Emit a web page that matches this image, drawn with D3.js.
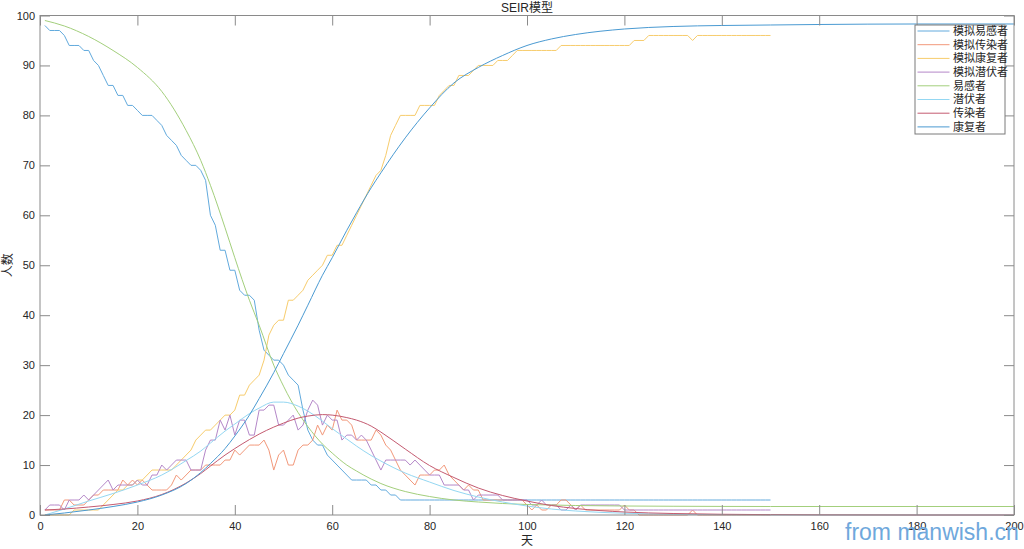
<!DOCTYPE html>
<meta charset="utf-8">
<style>
  body { margin: 0; background: #fff; }
  text { font-family: "Liberation Sans", Arial, "Noto Sans CJK SC", sans-serif; }
</style>
<body>
<script src="https://cdn.jsdelivr.net/npm/d3@7"></script>
<script>
// simulated (stochastic) run, one value per day, days 1..150
var simS = [98,97,97,97,96,94,94,94,93,93, 91,90,88,86,86,84,84,82,82,81,
            80,80,80,79,78,76,75,74,72,71, 70,70,69,67,60,58,53,53,49,49,
            45,44,44,43,37,33,32,31,31,30, 28,27,26,21,17,15,14,14,12,11,
            10,9,8,7,7,7,7,6,6,5, 5,4,4,3,3,3,3,3,3,3,
            3,3,3,3,3,3,3,3,3,3, 3,3,3,3,3,3,3,3,3,3,
            3,3,3,3,3,3,3,3,3,3, 3,3,3,3,3,3,3,3,3,3,
            3,3,3,3,3,3,3,3,3,3, 3,3,3,3,3,3,3,3,3,3,
            3,3,3,3,3,3,3,3,3,3];
var simI = [1,1,1,1,3,3,2,2,2,3, 4,4,5,5,5,5,7,6,7,6,
            7,6,5,5,5,5,6,8,7,8, 9,9,9,10,10,10,10,11,11,13,
            12,13,14,14,14,15,13,9,12,13, 10,10,13,14,14,15,18,16,18,17,
            21,19,19,18,15,15,15,15,17,16, 14,13,11,9,8,7,6,8,8,8,
            9,9,10,8,7,6,5,6,5,5, 3,3,3,3,3,3,3,3,3,2,
            1,2,1,1,2,2,3,3,2,1, 2,1,1,1,1,1,1,1,1,2,
            1,1,0,0,0,0,0,0,0,0, 0,0,0,1,0,0,0,0,0,0,
            0,0,0,0,0,0,0,0,0,0];
var simR = [0,0,0,0,0,0,1,1,1,1, 1,1,2,3,4,5,5,6,6,7,
            7,8,9,9,9,9,9,10,11,12, 13,15,16,17,17,18,19,20,20,21,
            24,24,26,27,28,31,36,38,39,39, 43,43,44,45,47,48,49,50,52,52,
            54,54,56,58,60,62,64,66,68,69, 72,76,78,80,80,80,80,82,82,82,
            82,84,85,86,86,88,88,88,89,90, 90,90,90,91,91,91,92,93,93,93,
            93,93,93,93,93,93,94,94,94,94, 94,94,94,94,94,94,94,94,94,94,
            94,95,95,95,96,96,96,96,96,96, 96,96,96,95,96,96,96,96,96,96,
            96,96,96,96,96,96,96,96,96,96];
var simE = [1,2,2,2,1,3,3,3,4,3, 4,5,6,7,5,6,6,6,6,7,
            6,6,8,8,10,9,10,11,11,11, 9,9,9,13,15,15,19,17,20,16,
            19,19,16,16,21,21,22,22,18,18, 19,20,17,18,21,23,22,18,20,19,
            19,15,16,16,15,16,15,13,11,9, 11,11,11,11,11,10,11,10,9,8,
            8,8,6,6,6,6,5,5,3,4, 4,4,4,4,3,3,3,3,3,3,
            2,2,3,2,2,2,1,1,2,1, 2,2,2,2,2,2,2,2,2,1,
            1,1,1,1,1,1,1,1,1,1, 1,1,1,1,1,1,1,1,1,1,
            1,1,1,1,1,1,1,1,1,1];

// SEIR model curves, sampled at these days
var modelDays = [1,5,10,15,20,25,30,33,35,38,40,43,45,48,50,53,55,58,60,63,
                 65,68,70,75,80,85,90,95,100,105,110,120,130,140,150,160,180,200];
var modelS = [99,97.9,95.8,93,89.6,84.8,77,71,66,57.5,51.5,43,38,30,25.8,20.5,17.7,14.2,12.4,10,
              8.8,7.2,6.3,4.7,3.7,3.0,2.6,2.3,2.1,2.0,1.9,1.8,1.75,1.72,1.7,1.7,1.7,1.7];
var modelE = [0,1.2,2.8,4.3,6,8,10.9,12.8,14.4,16.8,18.2,20.3,21.4,22.6,22.6,21.8,20.8,18.8,17.3,15.2,
              13.8,11.9,10.8,8.4,6.6,4.9,3.6,2.6,1.8,1.2,0.8,0.35,0.15,0.06,0.03,0.01,0,0];
var modelI = [1,1.2,1.6,2.1,2.8,4.1,6.4,8.3,9.8,12,13.3,15.1,16.2,17.6,18.4,19.4,19.8,20.1,20,19.5,
              19,17.8,16.6,13.2,9.9,7.5,5.4,3.9,2.8,1.9,1.3,0.6,0.3,0.15,0.07,0.03,0,0];
var modelR = [0,0.4,1,1.7,2.6,4,6.3,8.5,10.3,13.3,15.8,20,23.3,28.5,32.3,38,42,48,51.5,57,
              60.5,65.5,68.5,75.5,81.5,86.5,89.6,92,94,95.3,96.2,97.3,97.8,98,98.1,98.2,98.3,98.3];

var legendLabels = ["模拟易感者","模拟传染者","模拟康复者","模拟潜伏者","易感者","潜伏者","传染者","康复者"];
var colors = ["#62aadd","#f2987a","#f7cc6c","#b487c8","#a3cf7c","#94d7f2","#c45a70","#4a9ad2"];

var xTicks = d3.range(0, 201, 20);
var yTicks = d3.range(0, 101, 10);

var W = 1024, H = 549;
var margin = {top: 15.5, right: 10, bottom: 34, left: 40};
var width = W - margin.left - margin.right,
    height = H - margin.top - margin.bottom;

var x = d3.scaleLinear().domain([0, 200]).range([0, width]);
var y = d3.scaleLinear().domain([0, 100]).range([height, 0]);

var svg = d3.select("body").append("svg")
    .attr("width", W)
    .attr("height", H);

var g = svg.append("g")
    .attr("transform", "translate(" + margin.left + "," + margin.top + ")");

// sim series then model series, same order as the legend
var days = simS.map(function(d, i) { return i + 1; });
var series = [
  days.map(function(d, i) { return [d, simS[i]]; }),
  days.map(function(d, i) { return [d, simI[i]]; }),
  days.map(function(d, i) { return [d, simR[i]]; }),
  days.map(function(d, i) { return [d, simE[i]]; }),
  modelDays.map(function(d, i) { return [d, modelS[i]]; }),
  modelDays.map(function(d, i) { return [d, modelE[i]]; }),
  modelDays.map(function(d, i) { return [d, modelI[i]]; }),
  modelDays.map(function(d, i) { return [d, modelR[i]]; })
];

var line = d3.line()
    .x(function(d) { return x(d[0]); })
    .y(function(d) { return y(d[1]); });
var smooth = d3.line()
    .x(function(d) { return x(d[0]); })
    .y(function(d) { return y(d[1]); })
    .curve(d3.curveMonotoneX);

g.selectAll("path.series")
    .data(series)
  .enter().append("path")
    .attr("class", "series")
    .attr("fill", "none")
    .attr("stroke", function(d, i) { return colors[i]; })
    .attr("stroke-width", 1)
    .attr("d", function(d, i) { return i < 4 ? line(d) : smooth(d); });

// axes, matlab style: ticks inside, box on
var axisColor = "#8a8a8a";
function styleAxis(sel) {
  sel.select(".domain").remove();
  sel.selectAll(".tick line").attr("stroke", axisColor);
  sel.selectAll(".tick text").attr("fill", "#262626").style("font-size", "11px");
}
g.append("g")
    .attr("transform", "translate(0," + height + ")")
    .call(d3.axisBottom(x).tickValues(xTicks).tickSize(-10).tickPadding(7))
    .call(styleAxis);
g.append("g")
    .call(d3.axisTop(x).tickValues(xTicks).tickSize(-10).tickFormat(""))
    .call(styleAxis);
g.append("g")
    .call(d3.axisLeft(y).tickValues(yTicks).tickSize(-10).tickPadding(5))
    .call(styleAxis);
g.append("g")
    .attr("transform", "translate(" + width + ",0)")
    .call(d3.axisRight(y).tickValues(yTicks).tickSize(-10).tickFormat(""))
    .call(styleAxis);

g.append("rect")
    .attr("width", width)
    .attr("height", height)
    .attr("fill", "none")
    .attr("stroke", axisColor);

// title and labels
svg.append("text")
    .attr("x", margin.left + width / 2)
    .attr("y", 12)
    .attr("text-anchor", "middle")
    .attr("fill", "#262626")
    .style("font-size", "12px")
    .text("SEIR模型");
svg.append("text")
    .attr("x", margin.left + width / 2)
    .attr("y", 545)
    .attr("text-anchor", "middle")
    .attr("fill", "#262626")
    .style("font-size", "12px")
    .text("天");
svg.append("text")
    .attr("transform", "translate(12," + (margin.top + height / 2) + ") rotate(-90)")
    .attr("text-anchor", "middle")
    .attr("fill", "#262626")
    .style("font-size", "12px")
    .text("人数");

// legend
var lg = svg.append("g").attr("transform", "translate(915,25)");
lg.append("rect")
    .attr("width", 90)
    .attr("height", 109)
    .attr("fill", "#fff")
    .attr("stroke", "#7a7a7a");
var item = lg.selectAll("g.item")
    .data(legendLabels)
  .enter().append("g")
    .attr("class", "item")
    .attr("transform", function(d, i) { return "translate(0," + (6 + i * 13.7) + ")"; });
item.append("line")
    .attr("x1", 2.5).attr("x2", 34.5)
    .attr("stroke", function(d, i) { return colors[i]; })
    .attr("stroke-width", 1);
item.append("text")
    .attr("x", 38)
    .attr("dy", "0.35em")
    .attr("fill", "#262626")
    .style("font-size", "11px")
    .text(function(d) { return d; });

// watermark
svg.append("text")
    .attr("x", 845)
    .attr("y", 540)
    .attr("fill", "#6fa8dc")
    .style("font-size", "23px")
    .text("from manwish.cn");
</script>
</body>
